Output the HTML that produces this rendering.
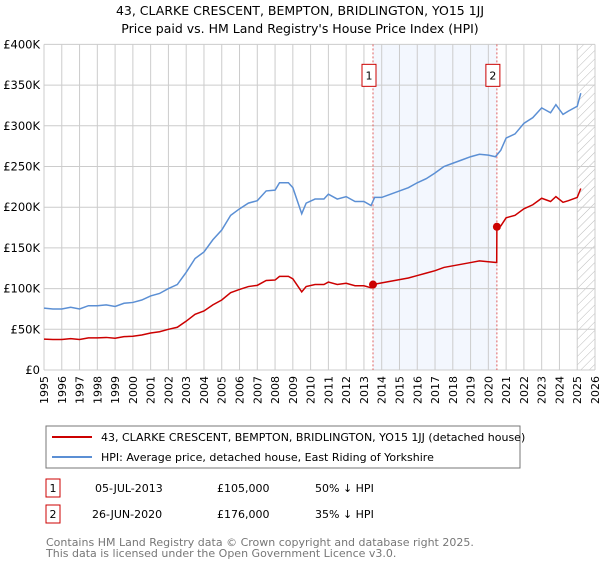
<!DOCTYPE html>
<html><head><meta charset="utf-8"><style>
body{margin:0;background:#fff;font-family:"Liberation Sans","DejaVu Sans",sans-serif;}
svg text{font-family:"DejaVu Sans","Liberation Sans",sans-serif;}
</style></head><body>
<svg id="c" width="600" height="560" xmlns="http://www.w3.org/2000/svg">
<defs><pattern id="hatch" width="6" height="6" patternUnits="userSpaceOnUse" patternTransform="rotate(45)"><line x1="0" y1="0" x2="0" y2="6" stroke="#bbb" stroke-width="1"/></pattern></defs>
<text x="300" y="15" text-anchor="middle" font-size="12.5">43, CLARKE CRESCENT, BEMPTON, BRIDLINGTON, YO15 1JJ</text>
<text x="300" y="33" text-anchor="middle" font-size="12.5">Price paid vs. HM Land Registry's House Price Index (HPI)</text>
<g id="plot"></g>
<rect x="46" y="426" width="474" height="42" fill="#fff" stroke="#777"/>
<line x1="52" y1="437" x2="92" y2="437" stroke="#cc0000" stroke-width="2"/>
<text x="101" y="441" font-size="11">43, CLARKE CRESCENT, BEMPTON, BRIDLINGTON, YO15 1JJ (detached house)</text>
<line x1="52" y1="457" x2="92" y2="457" stroke="#5b8fd4" stroke-width="2"/>
<text x="101" y="461" font-size="11">HPI: Average price, detached house, East Riding of Yorkshire</text>
<g>
<rect x="46" y="479" width="14" height="18" fill="#fff" stroke="#cc0000"/>
<text x="53" y="492" text-anchor="middle" font-size="11">1</text>
<text x="95" y="492" font-size="11">05-JUL-2013</text>
<text x="217" y="492" font-size="11">£105,000</text>
<text x="315" y="492" font-size="11">50% ↓ HPI</text></g>
<g>
<rect x="46" y="505" width="14" height="18" fill="#fff" stroke="#cc0000"/>
<text x="53" y="518" text-anchor="middle" font-size="11">2</text>
<text x="92" y="518" font-size="11">26-JUN-2020</text>
<text x="217" y="518" font-size="11">£176,000</text>
<text x="315" y="518" font-size="11">35% ↓ HPI</text></g>
<text x="46" y="546" font-size="11" fill="#777">Contains HM Land Registry data © Crown copyright and database right 2025.</text>
<text x="46" y="557" font-size="11" fill="#777">This data is licensed under the Open Government Licence v3.0.</text>
</svg>
<script>
const yTicks=[0,50,100,150,200,250,300,350,400];
const yTickLabels=["£0","£50K","£100K","£150K","£200K","£250K","£300K","£350K","£400K"];
const years=[1995,1996,1997,1998,1999,2000,2001,2002,2003,2004,2005,2006,2007,2008,2009,2010,2011,2012,2013,2014,2015,2016,2017,2018,2019,2020,2021,2022,2023,2024,2025,2026];
const hpiYears=[1995,1995.5,1996,1996.5,1997,1997.5,1998,1998.5,1999,1999.5,2000,2000.5,2001,2001.5,2002,2002.5,2003,2003.5,2004,2004.5,2005,2005.5,2006,2006.5,2007,2007.5,2008,2008.25,2008.75,2009,2009.5,2009.75,2010.25,2010.75,2011,2011.5,2012,2012.5,2013,2013.4,2013.6,2014,2014.5,2015,2015.5,2016,2016.5,2017,2017.5,2018,2018.5,2019,2019.5,2020,2020.4,2020.7,2021,2021.5,2022,2022.5,2023,2023.5,2023.8,2024.2,2024.5,2025,2025.2];
const hpiValues=[76,75,75,77,75,79,79,80,78,82,83,86,91,94,100,105,120,137,145,160,172,190,198,205,208,220,221,230,230,224,192,205,210,210,216,210,213,207,207,202,212,212,216,220,224,230,235,242,250,254,258,262,265,264,262,270,285,290,303,310,322,316,326,314,318,324,340];
const redYears=[1995,1995.5,1996,1996.5,1997,1997.5,1998,1998.5,1999,1999.5,2000,2000.5,2001,2001.5,2002,2002.5,2003,2003.5,2004,2004.5,2005,2005.5,2006,2006.5,2007,2007.5,2008,2008.25,2008.75,2009,2009.5,2009.75,2010.25,2010.75,2011,2011.5,2012,2012.5,2013,2013.4,2013.51,2014,2014.5,2015,2015.5,2016,2016.5,2017,2017.5,2018,2018.5,2019,2019.5,2020,2020.47,2020.48,2020.7,2021,2021.5,2022,2022.5,2023,2023.5,2023.8,2024.2,2024.5,2025,2025.2];
const redValues=[38,37.5,37.5,38.5,37.5,39.5,39.5,40,39,41,41.5,43,45.5,47,50,52.5,60,68.5,72.5,80,86,95,99,102.5,104,110,110.5,115,115,112,96,102.5,105,105,108,105,106.5,103.5,103.5,101,105,107,109,111,113,116,119,122,126,128,130,132,134,133,132,176,177,187,190,198,203,211,207,213,206,208,212,223];
const saleYears=[2013.51,2020.48];
const saleValues=[105,176];
const saleLabels=["1","2"];

const X0=44,X1=595,Y0=370,Y1=44.4;
const sx=t=>X0+(t-1995)/(2026-1995)*(X1-X0);
const sy=v=>Y0-v/400*(Y0-Y1);
const NS="http://www.w3.org/2000/svg";
const g=document.getElementById('plot');
function mk(tag,attrs,parent){const e=document.createElementNS(NS,tag);for(const k in attrs)e.setAttribute(k,attrs[k]);(parent||g).appendChild(e);return e;}
let r=mk('rect',{x:sx(saleYears[0]),y:Y1,width:sx(saleYears[1])-sx(saleYears[0]),height:Y0-Y1,fill:'#eef3fd',opacity:0.7});


r=mk('rect',{x:sx(2025),y:Y1,width:X1-sx(2025),height:Y0-Y1,fill:'url(#hatch)'});


years.forEach(y=>{const l=mk('line',{x1:sx(y),x2:sx(y),y1:Y1,y2:Y0,stroke:'#ccc','stroke-width':1});


const t=mk('text',{x:0,y:0,'font-size':11,'text-anchor':'end',transform:`translate(${sx(y)+4},${Y0+6}) rotate(-90)`});t.textContent=y;

});
yTicks.forEach((v,i)=>{const l=mk('line',{x1:X0,x2:X1,y1:sy(v),y2:sy(v),stroke:'#ccc','stroke-width':1});


const t=mk('text',{x:X0-4,y:sy(v)+4,'font-size':11.5,'text-anchor':'end'});t.textContent=yTickLabels[i];

});
saleYears.forEach((s,i)=>{const l=mk('line',{x1:sx(s),x2:sx(s),y1:Y1,y2:Y0,stroke:'#e06060','stroke-width':1,'stroke-dasharray':'2,2'});


const b=mk('rect',{x:sx(s)-11,y:sy(362)-11,width:14,height:22,fill:'#fff',stroke:'#cc0000'});


const t=mk('text',{x:sx(s)-4,y:sy(362)+4,'font-size':11,'text-anchor':'middle'});t.textContent=saleLabels[i];

});
let p=mk('polyline',{points:hpiYears.map((t,i)=>sx(t)+','+sy(hpiValues[i])).join(' '),fill:'none',stroke:'#5b8fd4','stroke-width':1.5});


p=mk('polyline',{points:redYears.map((t,i)=>sx(t)+','+sy(redValues[i])).join(' '),fill:'none',stroke:'#cc0000','stroke-width':1.5});


saleYears.forEach((s,i)=>{const c=mk('circle',{cx:sx(s),cy:sy(saleValues[i]),r:4,fill:'#cc0000'});

});
</script>
</body></html>
